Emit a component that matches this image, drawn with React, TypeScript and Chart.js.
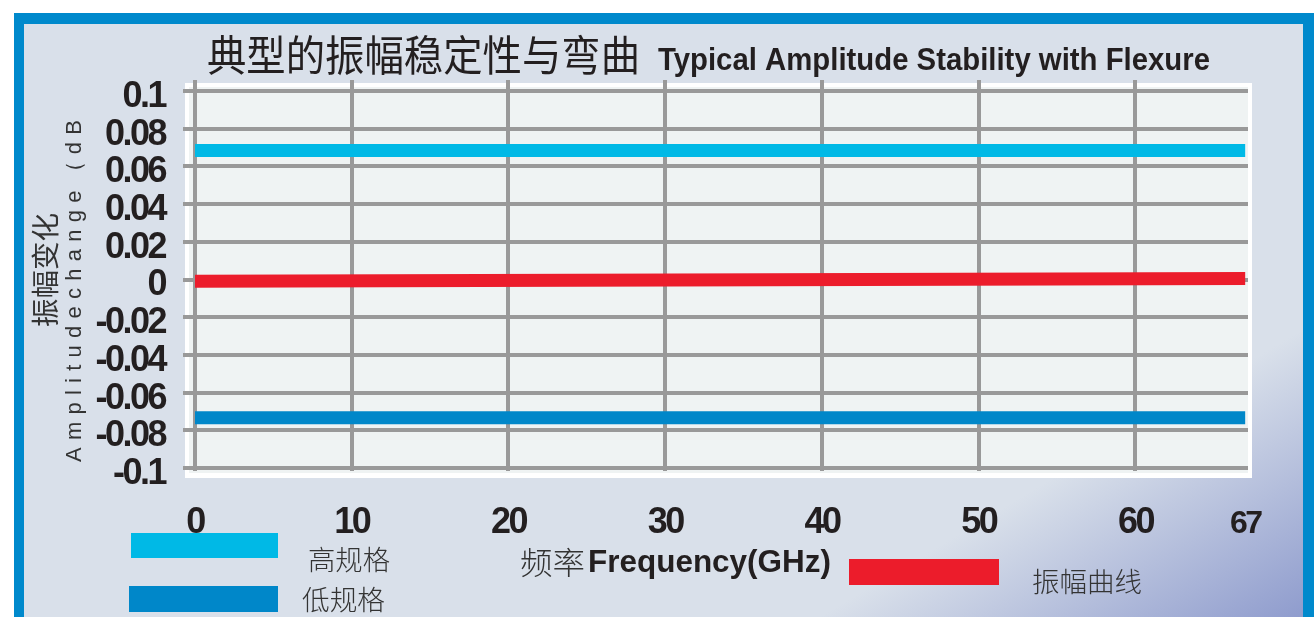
import React, { useEffect, useRef } from 'react';
import { Chart, registerables } from 'chart.js';

Chart.register(...registerables);

// ---- data ----
const frequencies = [0, 67];
const upperSpec = [0.0685, 0.0685];
const lowerSpec = [-0.0734, -0.0734];
const amplitudeCurve = [-0.0009, 0.0005];
const xTickValues = [0, 10, 20, 30, 40, 50, 60, 67];
const yTickValues = [0.1, 0.08, 0.06, 0.04, 0.02, 0, -0.02, -0.04, -0.06, -0.08, -0.1];
const seriesNames = ['高规格', '低规格', '振幅曲线'];
const titleCN = '典型的振幅稳定性与弯曲';
const titleEN = 'Typical Amplitude Stability with Flexure';
const yTitleCN = '振幅变化';
const yTitleEN = 'Amplitudechange（dB';
const xTitleCN = '频率';
const xTitleEN = 'Frequency(GHz)';

// ---- styles ----
const W = 1316;
const H = 617;
const CYAN = '#00b9e6';
const BLUE = '#0087c9';
const RED = '#ec1c2b';
const GRID = '#999999';
const FRAME = '#0089cc';
const TEXT = '#231f20';
const NARROW = "'Liberation Sans Narrow', 'Arial Narrow', 'Liberation Sans', Arial, sans-serif";
const SANS = "'Liberation Sans', Arial, sans-serif";
const CJK = "'Noto Sans CJK SC', sans-serif";

function drawFit(ctx: CanvasRenderingContext2D, text: string, x: number, y: number, width: number, font: string, color: string) {
  ctx.save();
  ctx.font = font;
  ctx.fillStyle = color;
  ctx.textBaseline = 'middle';
  ctx.textAlign = 'left';
  const w = ctx.measureText(text).width;
  ctx.translate(x, y);
  ctx.scale(width / w, 1);
  ctx.fillText(text, 0, 0);
  ctx.restore();
}

function drawRotFit(ctx: CanvasRenderingContext2D, text: string, cx: number, cy: number, length: number, font: string, color: string, spaced: boolean) {
  ctx.save();
  ctx.font = font;
  ctx.fillStyle = color;
  ctx.textBaseline = 'middle';
  ctx.textAlign = 'left';
  ctx.translate(cx, cy);
  ctx.rotate(-Math.PI / 2);
  if (spaced) {
    const chars = Array.from(text);
    const widths = chars.map((c) => ctx.measureText(c).width);
    const total = widths.reduce((a, b) => a + b, 0);
    const gap = (length - total) / (chars.length - 1);
    let x = -length / 2;
    chars.forEach((c, i) => {
      ctx.fillText(c, x, 0);
      x += widths[i] + gap;
    });
  } else {
    const w = ctx.measureText(text).width;
    ctx.scale(length / w, 1);
    ctx.fillText(text, -w / 2, 0);
  }
  ctx.restore();
}

const decorPlugin = {
  id: 'decor',
  beforeDraw(chart: any) {
    const ctx: any = chart.ctx;
    ctx.save();
    ctx.fillStyle = '#ffffff';
    ctx.fillRect(0, 0, W, H);
    ctx.fillStyle = FRAME;
    ctx.fillRect(14, 13, 1314 - 14, H - 13);
    const g = ctx.createLinearGradient(482, 818, 610, 1033);
    g.addColorStop(0, '#d9e0ea');
    g.addColorStop(1, '#8e9bcd');
    ctx.fillStyle = g;
    ctx.fillRect(24, 24, 1303 - 24, H - 24);
    // plot panel
    ctx.fillStyle = '#ffffff';
    ctx.fillRect(185, 83, 1252 - 185, 478 - 83);
    ctx.fillStyle = '#eff3f3';
    ctx.fillRect(189, 87, 1248 - 189, 473 - 87);
    ctx.restore();
    // tight tracking for the tick labels
    ctx.letterSpacing = '-2.5px';
  },
  afterDraw(chart: any) {
    const ctx: any = chart.ctx;
    ctx.letterSpacing = '0px';
    // titles
    drawFit(ctx, titleCN, 207, 55, 433, `400 42px ${CJK}`, TEXT);
    drawFit(ctx, titleEN, 658, 61, 552, `bold 31px ${NARROW}`, TEXT);
    // y axis title
    drawRotFit(ctx, yTitleCN, 45, 270, 114, `400 28px ${CJK}`, '#333333', false);
    drawRotFit(ctx, yTitleEN, 75, 291, 342, `400 22px ${SANS}`, '#333333', true);
    // x axis title
    drawFit(ctx, xTitleCN, 520, 562, 65, `300 31px ${CJK}`, '#333333');
    drawFit(ctx, xTitleEN, 588, 563, 243, `bold 32px ${NARROW}`, TEXT);
    // legend
    ctx.save();
    ctx.fillStyle = CYAN;
    ctx.fillRect(131, 533, 278 - 131, 25);
    ctx.fillStyle = BLUE;
    ctx.fillRect(129, 586, 278 - 129, 26);
    ctx.fillStyle = RED;
    ctx.fillRect(849, 559, 999 - 849, 26);
    ctx.restore();
    drawFit(ctx, seriesNames[0], 308, 560, 82, `300 27px ${CJK}`, '#333333');
    drawFit(ctx, seriesNames[1], 302, 600, 83, `300 27px ${CJK}`, '#333333');
    drawFit(ctx, seriesNames[2], 1032, 582, 110, `300 27px ${CJK}`, '#333333');
  },
};

export default function App() {
  const ref = useRef<HTMLCanvasElement | null>(null);
  useEffect(() => {
    document.body.style.margin = '0';
    const canvas = ref.current;
    if (!canvas) return;
    const mk = (vals: number[]) => frequencies.map((f, i) => ({ x: f, y: vals[i] }));
    const chart = new Chart(canvas, {
      type: 'line',
      data: {
        datasets: [
          { label: seriesNames[0], data: mk(upperSpec), borderColor: CYAN, borderWidth: 13, pointRadius: 0, borderCapStyle: 'butt' },
          { label: seriesNames[1], data: mk(lowerSpec), borderColor: BLUE, borderWidth: 13, pointRadius: 0, borderCapStyle: 'butt' },
          { label: seriesNames[2], data: mk(amplitudeCurve), borderColor: RED, borderWidth: 13, pointRadius: 0, borderCapStyle: 'butt' },
        ],
      },
      options: {
        animation: false,
        responsive: false,
        devicePixelRatio: 1,
        layout: { padding: { top: 80, right: 68, left: 0, bottom: 0 } },
        plugins: { legend: { display: false }, title: { display: false }, tooltip: { enabled: false } },
        scales: {
          x: {
            type: 'linear',
            min: 0,
            max: 67.18,
            border: { display: false },
            grid: {
              color: (c: any) => (c.tick && c.tick.value === 67 ? 'rgba(0,0,0,0)' : GRID),
              lineWidth: 4,
              drawTicks: false,
              tickLength: 0,
            },
            ticks: {
              autoSkip: false,
              maxRotation: 0,
              padding: 34,
              color: TEXT,
              font: (c: any) =>
                c.tick && c.tick.value === 67
                  ? { family: SANS, size: 32, weight: 'bold', lineHeight: 1.2 }
                  : { family: NARROW, size: 36, weight: 'bold', lineHeight: 1 },
              callback: (v: any) => String(v),
            },
            afterBuildTicks: (s: any) => {
              s.ticks = xTickValues.map((v) => ({ value: v }));
            },
            afterFit: (s: any) => {
              s.height = 146;
            },
          },
          y: {
            type: 'linear',
            min: -0.1016,
            max: 0.1059,
            border: { display: false },
            grid: { color: GRID, lineWidth: 4, drawTicks: true, tickLength: 12 },
            ticks: {
              autoSkip: false,
              padding: 18,
              labelOffset: 6,
              color: TEXT,
              font: { family: NARROW, size: 36, weight: 'bold', lineHeight: 1 },
              callback: (v: any) => String(Number((+v).toFixed(2))),
            },
            afterBuildTicks: (s: any) => {
              s.ticks = yTickValues.map((v) => ({ value: v }));
            },
            afterFit: (s: any) => {
              s.width = 195;
            },
          },
        },
      } as any,
      plugins: [decorPlugin],
    });
    return () => chart.destroy();
  }, []);
  return (
    <div style={{ width: W, height: H }}>
      <canvas ref={ref} width={W} height={H} style={{ display: 'block', width: W, height: H }} />
    </div>
  );
}
